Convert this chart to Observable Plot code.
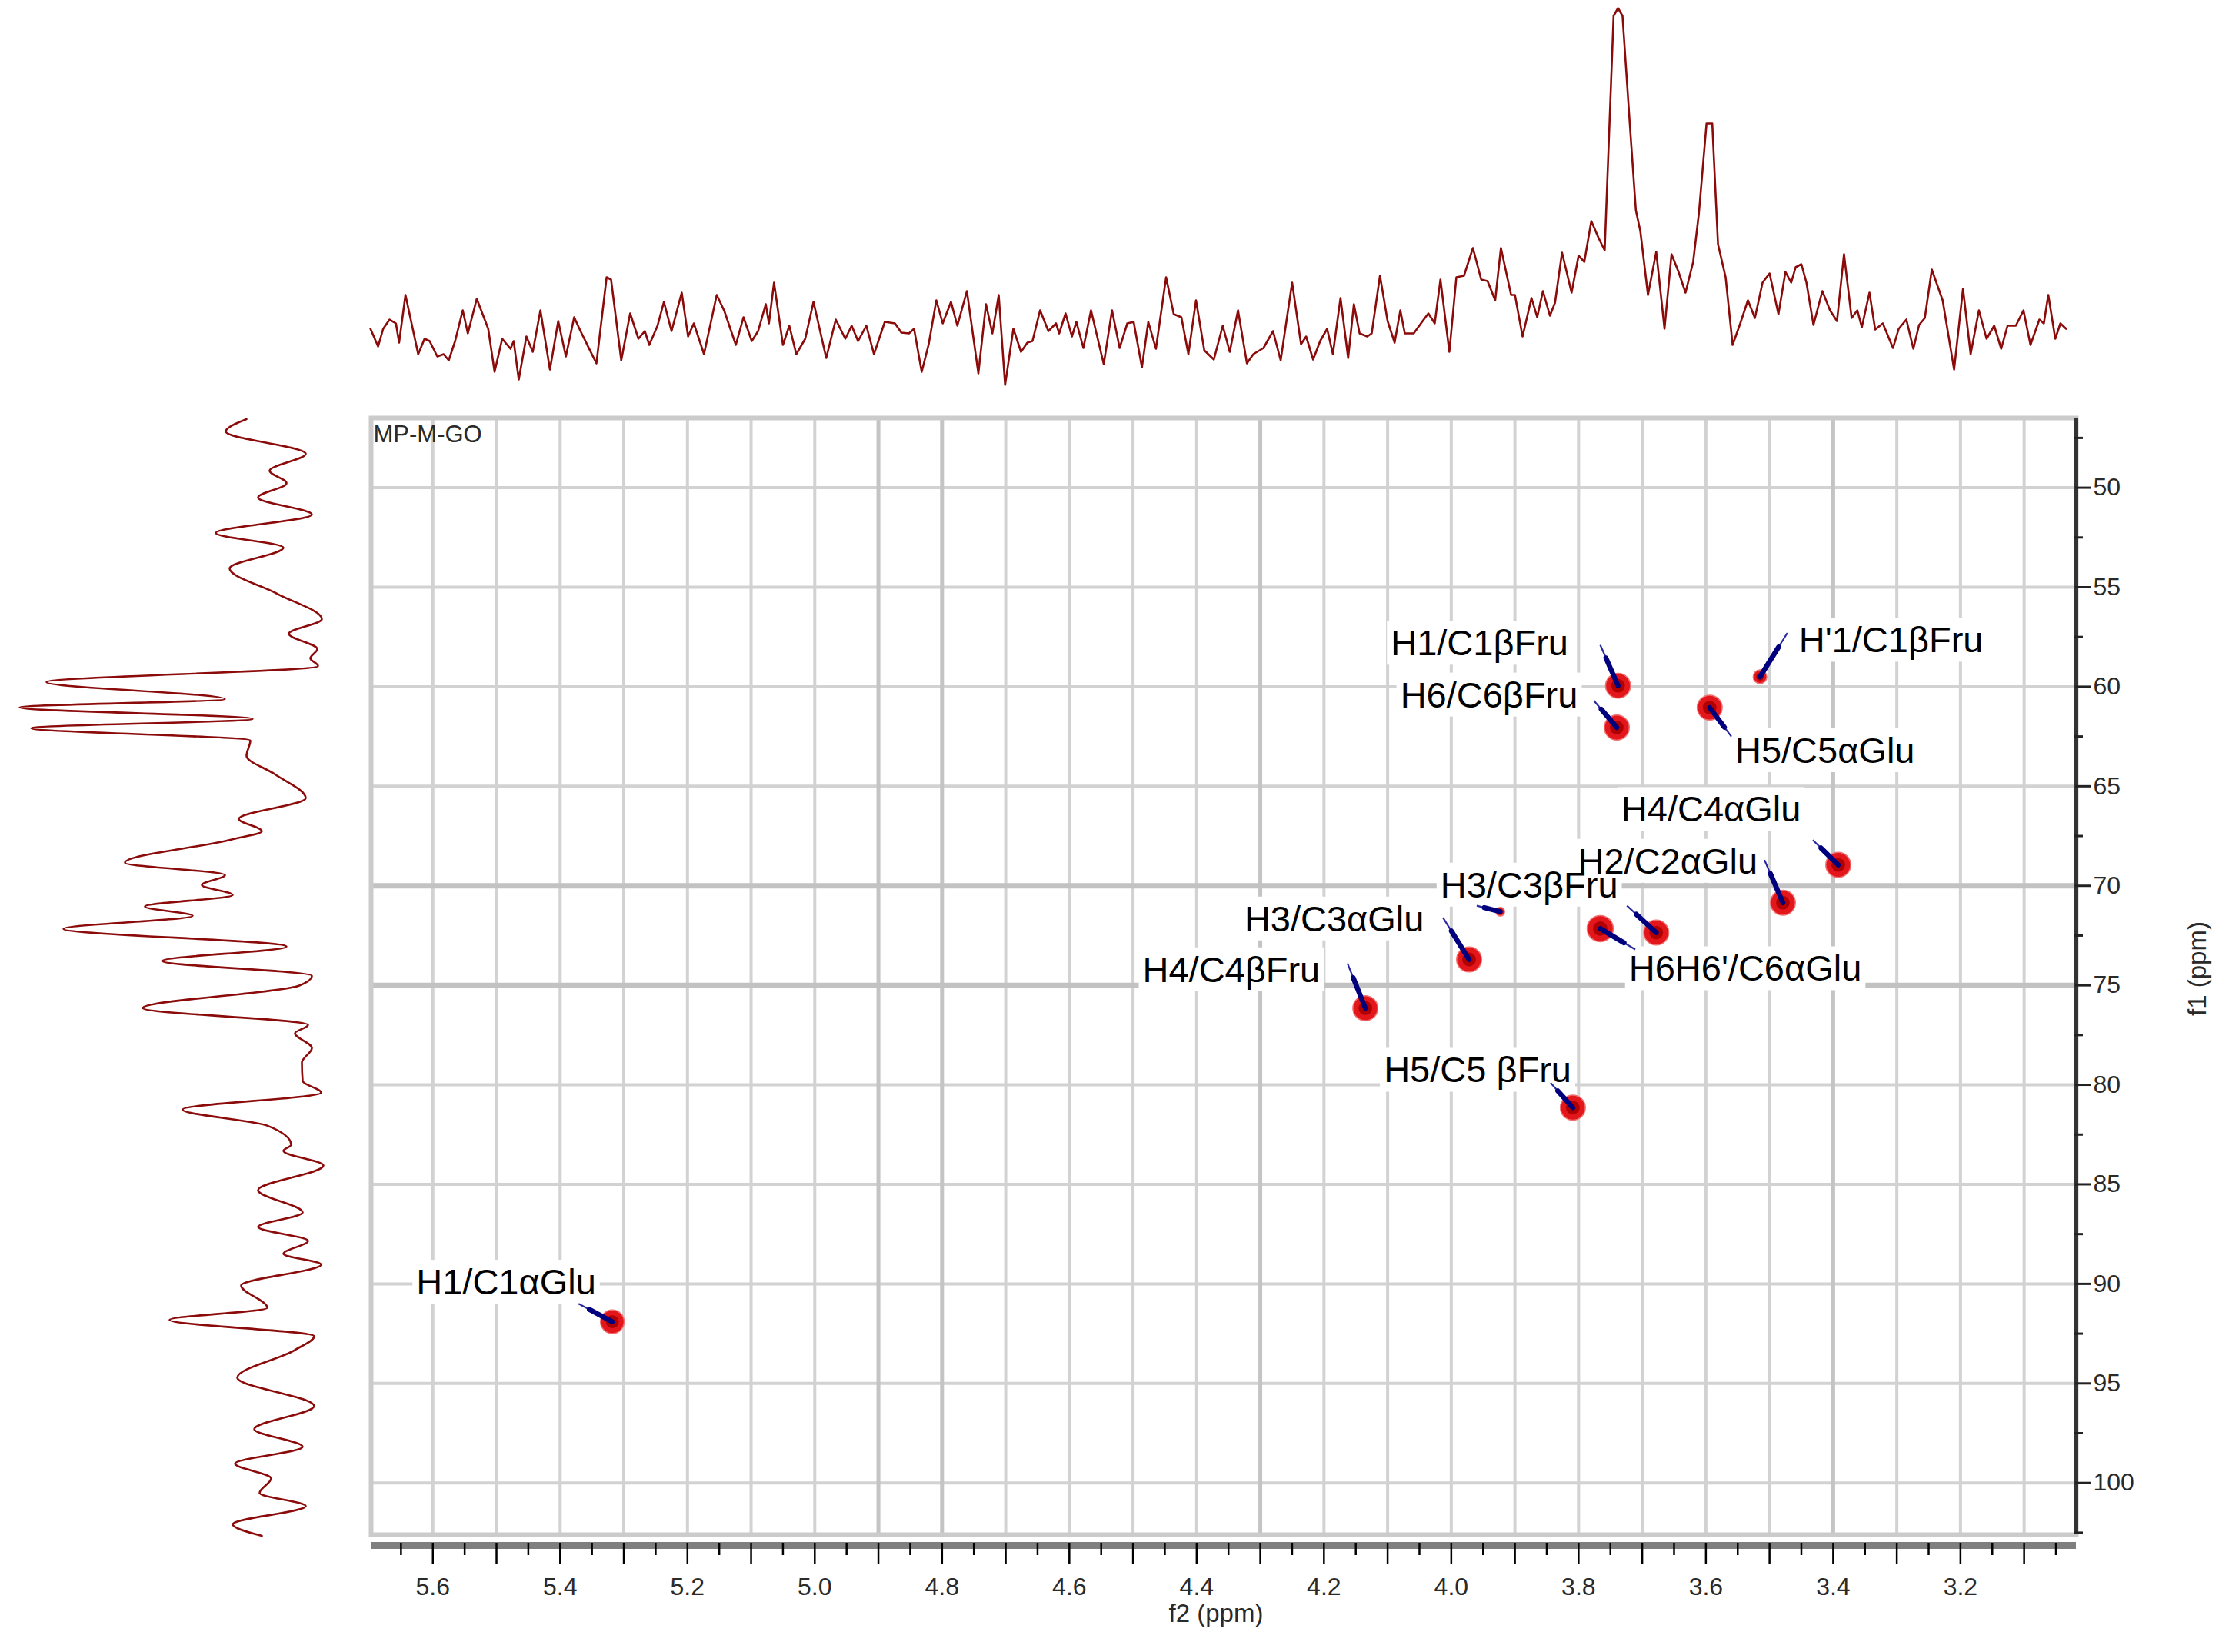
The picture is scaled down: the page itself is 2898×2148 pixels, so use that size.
<!DOCTYPE html>
<html><head><meta charset="utf-8">
<script src="https://cdn.jsdelivr.net/npm/d3@7"></script>
<script src="https://cdn.jsdelivr.net/npm/@observablehq/plot@0.6"></script>
<style>
html,body{margin:0;padding:0;background:#fff;}
#wrap{position:relative;width:2898px;height:2148px;overflow:hidden;background:#fff;}
#wrap svg{position:absolute;left:0;top:0;background:transparent !important;max-width:none !important;}
</style></head><body><div id="wrap"></div>
<script>
(function(){
const W = 2898, H = 2148;
// axis extents (ppm)
const xDomain = [5.697, 3.018];   // f2 (1H), reversed
const yDomain = [102.6, 46.5];    // f1 (13C), bottom -> top
const xTickLabels = [5.6, 5.4, 5.2, 5.0, 4.8, 4.6, 4.4, 4.2, 4.0, 3.8, 3.6, 3.4, 3.2];
const yTickLabels = [50, 55, 60, 65, 70, 75, 80, 85, 90, 95, 100];
const gridStrongX = [4.9, 4.8, 4.3, 3.4];
const gridStrongY = [70, 75];

// 1H projection (top): [ppm, intensity]
const topTrace = [[5.698,73],[5.686,50],[5.678,73],[5.668,85],[5.658,80],[5.653,55],[5.643,117],[5.623,40],[5.613,60],[5.605,57],[5.593,37],[5.583,40],[5.575,32],[5.565,57],[5.553,97],[5.545,67],[5.531,112],[5.513,73],[5.503,17],[5.491,60],[5.478,47],[5.473,57],[5.465,7],[5.453,63],[5.443,43],[5.431,97],[5.416,20],[5.403,83],[5.391,37],[5.378,88],[5.368,70],[5.343,28],[5.327,140],[5.320,137],[5.304,32],[5.290,93],[5.277,60],[5.267,70],[5.260,52],[5.247,77],[5.237,108],[5.225,70],[5.209,120],[5.199,63],[5.190,80],[5.174,40],[5.154,117],[5.142,96],[5.124,52],[5.112,88],[5.099,57],[5.089,70],[5.077,105],[5.072,80],[5.064,133],[5.050,52],[5.040,77],[5.029,40],[5.015,60],[5.002,108],[4.982,35],[4.967,85],[4.952,60],[4.942,77],[4.932,57],[4.919,77],[4.907,40],[4.890,82],[4.874,80],[4.864,68],[4.852,67],[4.844,73],[4.832,17],[4.821,53],[4.809,110],[4.799,80],[4.786,108],[4.776,77],[4.761,122],[4.743,15],[4.731,105],[4.721,67],[4.711,117],[4.701,0],[4.688,73],[4.676,43],[4.666,55],[4.658,57],[4.646,97],[4.633,70],[4.621,80],[4.616,67],[4.606,93],[4.596,63],[4.589,82],[4.578,48],[4.566,97],[4.546,27],[4.533,97],[4.521,48],[4.509,80],[4.499,82],[4.486,23],[4.476,82],[4.464,47],[4.448,140],[4.436,92],[4.424,88],[4.413,40],[4.401,110],[4.388,45],[4.373,33],[4.359,77],[4.348,43],[4.335,97],[4.321,28],[4.311,40],[4.295,48],[4.280,70],[4.268,32],[4.250,133],[4.236,53],[4.228,63],[4.217,33],[4.206,57],[4.195,73],[4.186,40],[4.174,113],[4.162,35],[4.153,105],[4.144,67],[4.132,63],[4.125,67],[4.112,142],[4.100,83],[4.089,55],[4.080,97],[4.073,67],[4.059,67],[4.045,83],[4.036,93],[4.026,80],[4.017,137],[4.003,43],[3.992,140],[3.980,142],[3.966,178],[3.953,137],[3.943,135],[3.931,110],[3.922,178],[3.906,117],[3.900,117],[3.888,63],[3.874,113],[3.865,88],[3.856,122],[3.845,90],[3.837,107],[3.826,172],[3.811,120],[3.800,168],[3.791,160],[3.780,213],[3.768,190],[3.759,175],[3.745,480],[3.738,490],[3.731,480],[3.719,333],[3.710,227],[3.703,200],[3.691,117],[3.678,173],[3.665,73],[3.654,170],[3.643,147],[3.632,120],[3.620,160],[3.611,223],[3.599,340],[3.590,340],[3.581,183],[3.569,140],[3.558,52],[3.546,80],[3.534,110],[3.523,87],[3.511,133],[3.500,145],[3.486,92],[3.475,147],[3.466,133],[3.459,153],[3.450,157],[3.442,133],[3.431,78],[3.417,122],[3.405,97],[3.394,83],[3.383,170],[3.371,87],[3.362,97],[3.355,75],[3.343,120],[3.334,72],[3.322,80],[3.306,48],[3.297,73],[3.285,85],[3.274,47],[3.265,78],[3.256,87],[3.245,150],[3.228,110],[3.210,20],[3.196,125],[3.184,40],[3.171,97],[3.159,60],[3.147,77],[3.136,47],[3.126,77],[3.113,77],[3.101,97],[3.090,52],[3.076,85],[3.069,80],[3.062,117],[3.051,60],[3.043,80],[3.034,73]];

// 13C projection (left): [ppm, intensity]
const leftTrace = [[46.56,150],[47.18,177],[48.30,73],[49.15,120],[49.77,98],[50.50,135],[51.35,65],[52.28,190],[53.01,102],[54.05,172],[55.33,110],[56.60,52],[57.34,95],[58.11,58],[58.57,67],[58.96,57],[59.77,410],[60.62,178],[61.04,445],[61.62,142],[62.08,430],[62.70,145],[63.47,150],[64.40,113],[65.60,73],[66.64,160],[67.26,130],[67.68,170],[68.84,308],[69.46,178],[69.96,208],[70.46,168],[71.04,282],[71.51,220],[72.16,388],[73.05,98],[73.78,260],[74.52,65],[75.02,82],[76.14,285],[76.99,70],[77.41,87],[78.15,65],[78.88,78],[79.81,77],[80.39,53],[81.24,233],[82.05,123],[83.01,92],[83.32,102],[84.05,50],[85.29,135],[86.41,77],[87.14,135],[87.84,70],[88.49,102],[89.03,53],[90.08,157],[91.20,123],[91.81,250],[92.63,62],[93.32,87],[94.71,162],[96.14,62],[97.30,140],[98.19,77],[99.03,165],[99.77,118],[100.50,133],[101.16,73],[102.08,168],[102.66,130]];

// HSQC cross peaks: [δH, δC]
const peakPos = [[3.738,59.95],[3.740,62.05],[3.594,61.05],[3.515,59.5],[3.392,68.95],[3.479,70.85],[3.923,71.3],[3.766,72.15],[3.678,72.35],[3.972,73.7],[4.135,76.15],[3.809,81.15],[5.318,91.9]];
const peakIntensity = [1, 1, 1, 0.3, 1, 1, 0.12, 1.1, 1, 1, 1, 1, 0.9];
// leader line start for each peak: [δH, δC]
const leaderStart = [[3.766,57.9],[3.776,60.7],[3.560,62.5],[3.472,57.3],[3.432,67.7],[3.508,68.7],[3.960,71.0],[3.711,73.2],[3.724,71.0],[4.013,71.6],[4.163,73.9],[3.844,79.9],[5.371,91.0]];

// assignment labels
const labelText = ["H1/C1βFru","H6/C6βFru","H5/C5αGlu","H'1/C1βFru","H4/C4αGlu","H3/C3βFru","H2/C2αGlu","H6H6'/C6αGlu","H3/C3αGlu","H4/C4βFru","H5/C5 βFru","H1/C1αGlu"];
const labelPos = [[4.095,57.85],[4.080,60.45],[3.554,63.25],[3.454,57.7],[3.733,66.2],[4.017,70.0],[3.801,68.8],[3.721,74.2],[4.325,71.7],[4.485,74.25],[4.106,79.3],[5.626,89.95]];

const gridX = d3.range(56, 30, -1).map(d => d / 10);            // 5.6 … 3.1
const gridY = yTickLabels;
const xMajorTicks = gridX;
const xMinorTicks = d3.range(565, 300, -10).map(d => d / 100);  // 5.65 … 3.05
const yMinorTicks = d3.range(475, 1030, 50).map(d => d / 10);   // 47.5 … 102.5

const FONT = "Liberation Sans, Arial, sans-serif";
const RED = "#8b0a0a";

const peaks = peakPos.map((p, i) => ({h: p[0], c: p[1], v: peakIntensity[i]}));
const leaders = leaderStart.map((s, i) => ({x1: s[0], y1: s[1], x2: peakPos[i][0], y2: peakPos[i][1]}));
const labels = labelText.map((t, i) => ({t, h: labelPos[i][0], c: labelPos[i][1]}));
const frac = 0.32;

const wrap = document.getElementById("wrap");

const topPlot = Plot.plot({
  width: W, height: 540,
  marginLeft: 482, marginRight: 199, marginTop: 10, marginBottom: 40,
  x: {domain: xDomain, axis: null},
  y: {domain: [0, 490], axis: null},
  style: {background: "transparent"},
  marks: [
    Plot.line(topTrace, {x: d => d[0], y: d => d[1], stroke: RED, strokeWidth: 2.6})
  ]
});

const leftPlot = Plot.plot({
  width: 470, height: H,
  marginLeft: 0, marginRight: 0, marginTop: 543, marginBottom: 153,
  x: {domain: [470, 0], axis: null},
  y: {domain: yDomain, axis: null},
  style: {background: "transparent"},
  marks: [
    Plot.line(leftTrace, {x: d => d[1], y: d => d[0], curve: "monotone-y", stroke: RED, strokeWidth: 2.6})
  ]
});

const mainPlot = Plot.plot({
  width: W, height: H,
  marginLeft: 482, marginRight: 199, marginTop: 543, marginBottom: 153,
  x: {domain: xDomain, axis: null},
  y: {domain: yDomain, axis: null},
  r: {domain: [0, 1.1], range: [0, 17]},
  style: {background: "transparent", fontFamily: FONT},
  marks: [
    Plot.ruleX(gridX, {stroke: "#d2d2d2", strokeWidth: 4}),
    Plot.ruleY(gridY, {stroke: "#d2d2d2", strokeWidth: 4}),
    Plot.ruleX(gridStrongX, {stroke: "#c4c4c4", strokeWidth: 5}),
    Plot.ruleY(gridStrongY, {stroke: "#c2c2c2", strokeWidth: 7}),
    Plot.frame({stroke: "#cbcbcb", strokeWidth: 6}),
    Plot.text(["MP-M-GO"], {frameAnchor: "top-left", dx: 3, dy: 22, textAnchor: "start", lineAnchor: "middle", fontSize: 31, fill: "#2a2a2a", fontFamily: FONT}),
    // bottom axis bar + ticks
    Plot.ruleY([yDomain[0]], {dy: 14, stroke: "#7f7f7f", strokeWidth: 9}),
    Plot.axisX({anchor: "bottom", ticks: xMajorTicks, tickSize: 27, dy: 11, tickFormat: () => "", label: null, stroke: "#000", strokeWidth: 2.5}),
    Plot.axisX({anchor: "bottom", ticks: xMinorTicks, tickSize: 16, dy: 11, tickFormat: () => "", label: null, stroke: "#000", strokeWidth: 2.5}),
    Plot.text(xTickLabels, {x: d => d, frameAnchor: "bottom", dy: 68, lineAnchor: "middle", text: d => d.toFixed(1), fontSize: 32, fill: "#2a2a2a", fontFamily: FONT}),
    Plot.text(["f2 (ppm)"], {frameAnchor: "bottom", dx: -10, dy: 103, lineAnchor: "middle", textAnchor: "middle", fontSize: 33, fill: "#2a2a2a", fontFamily: FONT}),
    // right axis
    Plot.ruleX([xDomain[1]], {stroke: "#333", strokeWidth: 5}),
    Plot.axisY({anchor: "right", ticks: yTickLabels, tickSize: 20, dx: -2, tickFormat: () => "", label: null, stroke: "#222", strokeWidth: 3}),
    Plot.axisY({anchor: "right", ticks: yMinorTicks, tickSize: 11, dx: -3, tickFormat: () => "", label: null, stroke: "#222", strokeWidth: 3}),
    Plot.text(yTickLabels, {y: d => d, frameAnchor: "right", dx: 22, textAnchor: "start", lineAnchor: "middle", fontSize: 32, fill: "#2a2a2a", fontFamily: FONT}),
    Plot.text(["f1 (ppm)"], {frameAnchor: "right", dx: 158, dy: -10, rotate: -90, textAnchor: "middle", lineAnchor: "middle", fontSize: 33, fill: "#2a2a2a", fontFamily: FONT}),
    // peaks
    Plot.dot(peaks, {x: "h", y: "c", r: "v", fill: "#e3161c", stroke: "#f07070", strokeWidth: 1.5}),
    Plot.dot(peaks, {x: "h", y: "c", r: d => d.v * 0.3, fill: "#b00000"}),
    // labels (white boxes added after render)
    Plot.text(labels, {x: "h", y: "c", text: "t", textAnchor: "start", lineAnchor: "middle", fontSize: 47, fill: "#000", fontFamily: FONT, className: "pklabel", ariaLabel: "pklabel"}),
    // leader lines
    Plot.link(leaders, {x1: "x1", y1: "y1", x2: "x2", y2: "y2", stroke: "#2a2aa0", strokeWidth: 2.2}),
    Plot.link(leaders, {
      x1: d => d.x1 + frac * (d.x2 - d.x1), y1: d => d.y1 + frac * (d.y2 - d.y1),
      x2: "x2", y2: "y2", stroke: "#00007e", strokeWidth: 6.5, strokeLinecap: "round"
    })
  ]
});

wrap.appendChild(topPlot);
wrap.appendChild(leftPlot);
wrap.appendChild(mainPlot);

// white boxes behind assignment labels (all boxes below all texts)
const texts = Array.from(new Set(mainPlot.querySelectorAll('g.pklabel text, g[aria-label="pklabel"] text')));
if (texts.length) {
  const first = texts[0];
  const parent = first.parentNode;
  texts.forEach(t => {
    const b = t.getBBox();
    const rc = document.createElementNS("http://www.w3.org/2000/svg", "rect");
    rc.setAttribute("x", b.x - 5);
    rc.setAttribute("y", b.y - 2);
    rc.setAttribute("width", b.width + 10);
    rc.setAttribute("height", b.height + 4);
    rc.setAttribute("fill", "white");
    rc.setAttribute("stroke", "none");
    const tr = t.getAttribute("transform");
    if (tr) rc.setAttribute("transform", tr);
    parent.insertBefore(rc, first);
  });
}
})();
</script>
</body></html>
